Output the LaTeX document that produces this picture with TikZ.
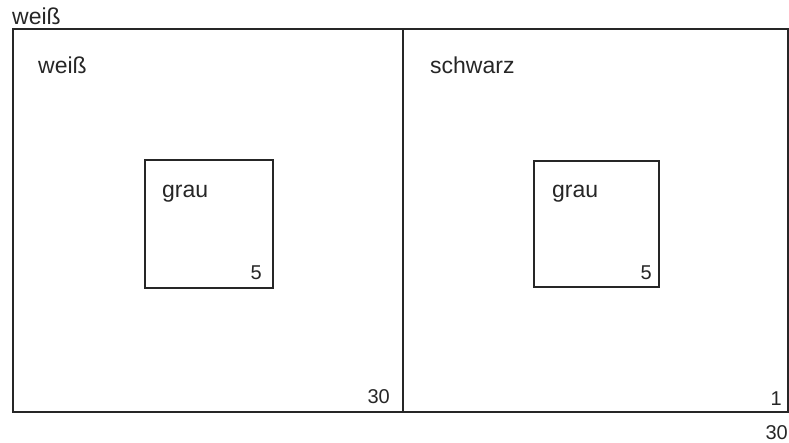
\documentclass[tikz,border=0pt]{standalone}
\usepackage{fontspec}
\setmainfont{Liberation Sans}
\usepackage{tikz}
\tikzset{
  feld/.style={rectangle, draw=black!85, line width=1.6pt, inner sep=0pt},
  quadrat/.style={rectangle, draw=black!85, line width=1.3pt, inner sep=0pt},
  farbe/.style={anchor=base west, inner sep=0pt, font=\fontsize{23}{27}\selectfont, color=black!85},
  mass/.style={anchor=base east, inner sep=0pt, font=\fontsize{20}{24}\selectfont, color=black!85}
}
\begin{document}
\begin{tikzpicture}[x=1pt, y=-1pt]
  \useasboundingbox (0,0) rectangle (789,443);
  % die beiden Felder
  \node[feld, minimum width=390pt, minimum height=383pt] (links) at (208,220.5) {};
  \node[feld, minimum width=385pt, minimum height=383pt] (rechts) at (595.5,220.5) {};
  % graue Quadrate
  \node[quadrat, minimum width=128pt, minimum height=128pt] (qlinks) at (209,224) {};
  \node[quadrat, minimum width=125pt, minimum height=126pt] (qrechts) at (596.5,224) {};
  % Beschriftung
  \node[farbe] (umgebung) at (12,25) {weiß};
  \node[farbe] (weiss) at (38,74) {weiß};
  \node[farbe] (schwarz) at (430,74) {schwarz};
  \node[farbe] (graul) at (162,198) {grau};
  \node[farbe] (graur) at (552,198) {grau};
  \node[mass] (fuenfl) at (262,280) {5};
  \node[mass] (fuenfr) at (652,280) {5};
  \node[mass] (dreissig) at (390,403) {30};
  \node[mass] (eins) at (782,405) {1};
  \node[mass] (breite) at (788,439) {30};
\end{tikzpicture}
\end{document}
